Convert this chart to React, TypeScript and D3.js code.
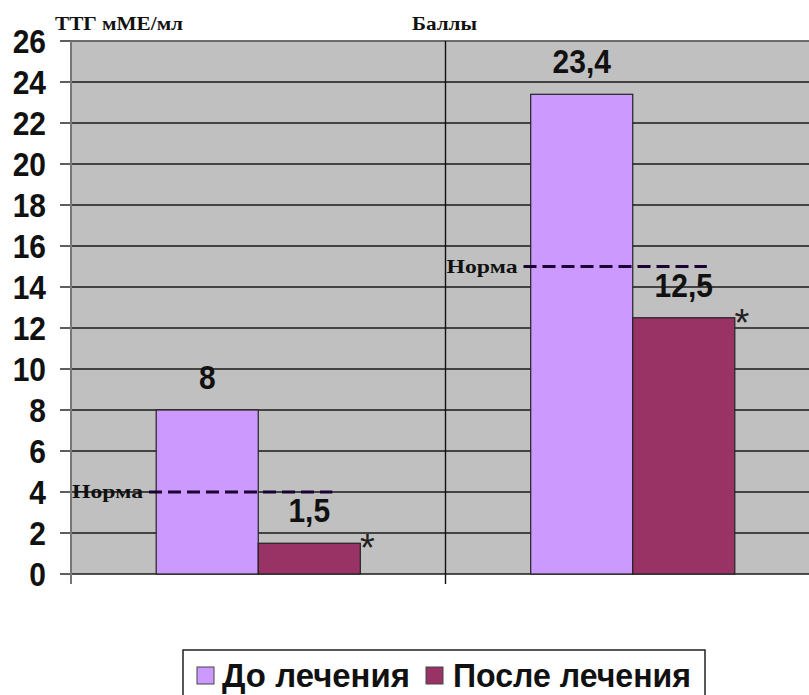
import React from "react";
import * as d3 from "d3";

const categories = ["ТТГ", "Баллы"];
const seriesNames = ["До лечения", "После лечения"];
const before = [8, 23.4];
const after = [1.5, 12.5];
const valueLabels = [["8", "1,5"], ["23,4", "12,5"]];
const norms = [4, 15];
const yTicks = [0, 2, 4, 6, 8, 10, 12, 14, 16, 18, 20, 22, 24, 26];
const axisTitles = ["ТТГ мМЕ/мл", "Баллы"];

const W = 809, H = 695;
const left = 71, right = 820, top = 41, bottom = 574;
const colors = ["#cc99ff", "#993366"];
const arial = "Arial, 'Liberation Sans', sans-serif";
const serif = "'Times New Roman', 'Liberation Serif', serif";

function Num({ x, y, anchor, dy, children }: { x: number; y: number; anchor: string; dy?: string; children: React.ReactNode }) {
  return (
    <text transform={`translate(${x},${y}) scale(1,1.12)`} textAnchor={anchor} dy={dy} fontFamily={arial} fontWeight="bold" fontSize={30} fill="#111">
      {children}
    </text>
  );
}

export default function App() {
  const y = d3.scaleLinear().domain([0, 26]).range([bottom, top]);
  const x0 = d3.scaleBand().domain(categories).range([left, right]).paddingInner(0).paddingOuter(0);
  const bw = x0.bandwidth();
  const groupW = bw * 0.545;
  const x1 = d3.scaleBand().domain(seriesNames).range([0, groupW]).padding(0);
  return (
    <svg width={W} height={H} style={{ position: "absolute", left: 0, top: 0, background: "#fff" }}>
      <rect x={left} y={top} width={right - left} height={bottom - top} fill="#c0c0c0" />
      {yTicks.map((t) => (
        <g key={t}>
          <line x1={left} x2={right} y1={y(t)} y2={y(t)} stroke="#1a1a1a" strokeWidth={1.4} />
          <line x1={left - 11} x2={left} y1={y(t)} y2={y(t)} stroke="#1a1a1a" strokeWidth={1.4} />
          <Num x={46} y={y(t)} anchor="end" dy="0.36em">{t}</Num>
        </g>
      ))}
      <line x1={left} x2={right} y1={top} y2={top} stroke="#777" strokeWidth={1.5} />
      <line x1={x0(categories[1]) as number} x2={x0(categories[1]) as number} y1={top} y2={bottom + 10} stroke="#111" strokeWidth={1.4} />
      <line x1={left} x2={left} y1={top} y2={bottom + 10} stroke="#777" strokeWidth={2} />
      {categories.map((c, i) => {
        const gx = (x0(c) as number) + (bw - groupW) / 2;
        const vals = [before[i], after[i]];
        const normY = y(norms[i]);
        const cx = x0(c) as number;
        return (
          <g key={c}>
            {vals.map((v, j) => {
              const bx = gx + (x1(seriesNames[j]) as number);
              const w = x1.bandwidth();
              return (
                <g key={j}>
                  <rect x={bx} y={y(v)} width={w} height={bottom - y(v)} fill={colors[j]} stroke="#222" strokeWidth={1.2} />
                  <Num x={bx + w / 2} y={y(v) - 21} anchor="middle">{valueLabels[i][j]}</Num>
                  {j === 1 && (
                    <text x={bx + w + 7} y={y(v) + 18} textAnchor="middle" fontFamily={arial} fontSize={38} fill="#222">*</text>
                  )}
                </g>
              );
            })}
            <line x1={cx + 78} x2={gx + groupW - 28} y1={normY} y2={normY} stroke="#1a0033" strokeWidth={3} strokeDasharray="13,6" />
            <text x={cx + 1} y={normY + 6} fontFamily={serif} fontWeight="bold" fontSize={19} textLength={71} lengthAdjust="spacingAndGlyphs" fill="#111">Норма</text>
          </g>
        );
      })}
      <text x={55} y={30} fontFamily={serif} fontWeight="bold" fontSize={18} textLength={128} lengthAdjust="spacingAndGlyphs" fill="#111">{axisTitles[0]}</text>
      <text x={412} y={30} fontFamily={serif} fontWeight="bold" fontSize={18} textLength={65} lengthAdjust="spacingAndGlyphs" fill="#111">{axisTitles[1]}</text>
      <rect x={183} y={650} width={522} height={60} fill="#fff" stroke="#222" strokeWidth={1.5} />
      <rect x={197} y={667} width={17} height={17} fill={colors[0]} stroke="#444" strokeWidth={1} />
      <text x={222} y={687} fontFamily={arial} fontWeight="bold" fontSize={34} textLength={188} lengthAdjust="spacingAndGlyphs" fill="#111">{seriesNames[0]}</text>
      <rect x={426} y={667} width={17} height={17} fill={colors[1]} stroke="#444" strokeWidth={1} />
      <text x={453} y={687} fontFamily={arial} fontWeight="bold" fontSize={34} textLength={238} lengthAdjust="spacingAndGlyphs" fill="#111">{seriesNames[1]}</text>
    </svg>
  );
}
